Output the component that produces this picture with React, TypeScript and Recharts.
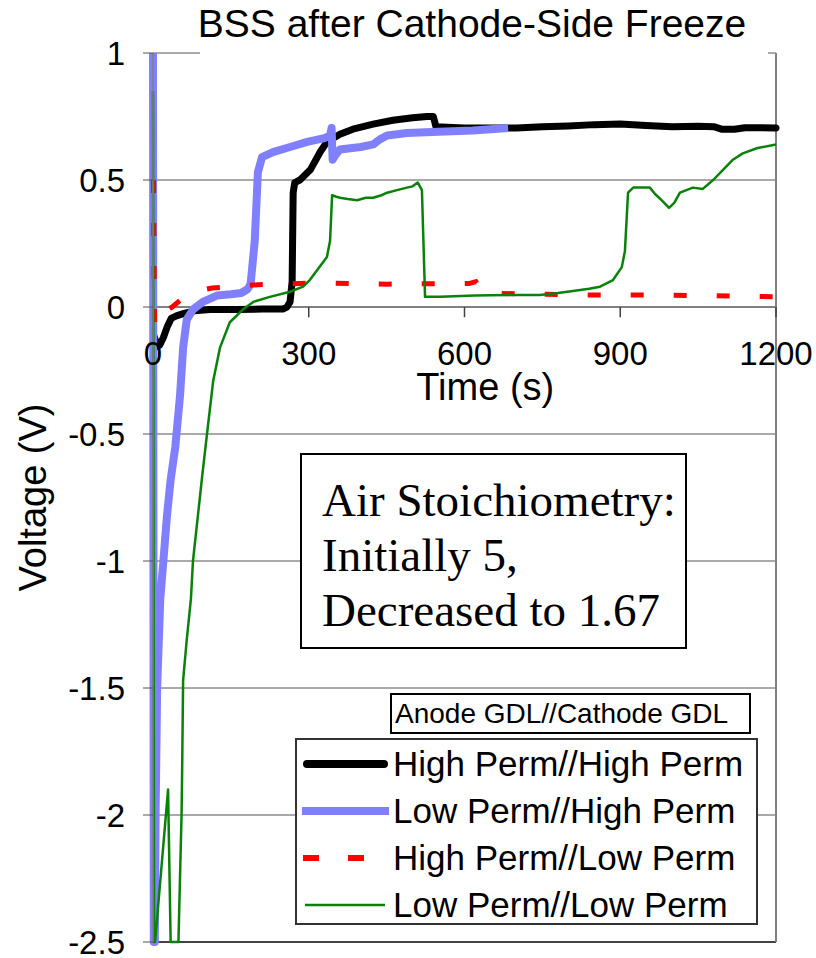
import {
  Legend,
  Line,
  LineChart,
  ReferenceDot,
  ReferenceLine,
  CartesianGrid,
  XAxis,
  YAxis,
} from "recharts";

// time (s), voltage (V)
const highHigh: [number, number][] = [
  [1, -0.11], [3, -0.12], [8, -0.155], [13, -0.15], [20, -0.12], [27, -0.08], [35, -0.045],
  [45, -0.035], [60, -0.025], [80, -0.015], [110, -0.01], [160, -0.01], [210, -0.008],
  [250, -0.008], [258, 0.0], [264, 0.02], [268, 0.1], [270, 0.45], [273, 0.49], [283, 0.5],
  [303, 0.54], [322, 0.61], [335, 0.65], [360, 0.68], [385, 0.7], [424, 0.72], [462, 0.735],
  [500, 0.745], [528, 0.75], [540, 0.75], [545, 0.71], [600, 0.705], [650, 0.705], [700, 0.705],
  [750, 0.71], [800, 0.713], [850, 0.718], [900, 0.72], [950, 0.715], [1000, 0.71],
  [1050, 0.712], [1080, 0.71], [1095, 0.7], [1120, 0.7], [1140, 0.706], [1200, 0.705],
];

const lowHigh: [number, number][] = [
  [0, 1.0], [1.5, -2.5], [3.5, -2.5], [5, -2.0], [8, -1.5], [14, -1.15], [20, -1.0],
  [27, -0.82], [34, -0.68], [43, -0.55], [52, -0.35], [58, -0.16], [65, -0.05], [77, -0.01],
  [96, 0.02], [123, 0.045], [150, 0.05], [170, 0.055], [182, 0.07], [188, 0.09], [196, 0.26],
  [202, 0.53], [210, 0.59], [231, 0.61], [264, 0.63], [297, 0.65], [330, 0.665], [341, 0.675],
  [344, 0.705], [346, 0.58], [352, 0.6], [360, 0.62], [400, 0.63], [424, 0.64], [437, 0.66],
  [451, 0.675], [489, 0.685], [550, 0.69], [616, 0.695], [684, 0.705],
];

const highLow: [number, number][] = [
  [1, 0.5], [3, -0.08], [12, -0.04], [25, -0.015], [37, 0.0], [60, 0.04], [90, 0.065],
  [114, 0.075], [142, 0.078], [193, 0.087], [240, 0.09], [300, 0.094], [350, 0.094],
  [400, 0.092], [450, 0.09], [500, 0.092], [560, 0.092], [610, 0.093], [622, 0.1], [628, 0.075],
  [640, 0.055], [700, 0.052], [760, 0.05], [820, 0.048], [880, 0.047], [940, 0.047],
  [1000, 0.046], [1060, 0.045], [1120, 0.043], [1200, 0.04],
];

const lowLow: [number, number][] = [
  [0, 0.85], [2, -2.5], [4, -2.5], [29, -1.9], [34, -2.5], [49, -2.5], [55, -2.0], [56, -1.85],
  [58, -1.47], [65, -1.31], [73, -1.15], [77, -1.0], [94, -0.68], [104, -0.5], [116, -0.29],
  [129, -0.16], [148, -0.06], [173, -0.01], [193, 0.02], [225, 0.04], [264, 0.06], [289, 0.08],
  [302, 0.106], [335, 0.197], [341, 0.26], [345, 0.44], [352, 0.435], [360, 0.43], [375, 0.425],
  [393, 0.42], [410, 0.43], [424, 0.43], [440, 0.44], [451, 0.45], [470, 0.46], [489, 0.47],
  [500, 0.475], [510, 0.49], [518, 0.46], [524, 0.04], [553, 0.04], [620, 0.045], [682, 0.047],
  [745, 0.047], [780, 0.055], [809, 0.063], [840, 0.072], [861, 0.08], [886, 0.106],
  [903, 0.157], [909, 0.22], [915, 0.45], [925, 0.47], [957, 0.47], [967, 0.445], [980, 0.42],
  [994, 0.39], [1004, 0.41], [1015, 0.45], [1040, 0.47], [1059, 0.465], [1079, 0.5],
  [1098, 0.54], [1117, 0.58], [1136, 0.605], [1163, 0.625], [1200, 0.64],
];

const timeTicks = [0, 300, 600, 900, 1200];
const voltTicks = [1, 0.5, 0, -0.5, -1, -1.5, -2, -2.5];

const toPoints = (rows: [number, number][]) => rows.map(([t, v]) => ({ t, v }));

const series = [
  { name: "High Perm//High Perm", rows: highHigh, color: "#000000", width: 7, dash: undefined, cap: "round", sample: [10, 87], sampleWidth: 8 },
  { name: "Low Perm//High Perm", rows: lowHigh, color: "#8080ff", width: 8, dash: undefined, cap: "butt", sample: [5, 92], sampleWidth: 8 },
  { name: "High Perm//Low Perm", rows: highLow, color: "#ff0000", width: 5, dash: "13 30", cap: "butt", sample: [6, 70], sampleWidth: 6, sampleDash: "16 29" },
  { name: "Low Perm//Low Perm", rows: lowLow, color: "#0a820a", width: 2.5, dash: undefined, cap: "butt", sample: [8, 88], sampleWidth: 2.5 },
];

const SANS = '"Liberation Sans", Arial, sans-serif';
const SERIF = '"Liberation Serif", "Times New Roman", serif';

function VoltLabel(props: any) {
  const vb = props.viewBox;
  const cx = vb.x + 33;
  const cy = vb.y + vb.height / 2;
  return (
    <text x={cx} y={cy} transform={`rotate(-90, ${cx}, ${cy})`} textAnchor="middle"
      dominantBaseline="central" fontSize={38} fill="#000">
      Voltage (V)
    </text>
  );
}

function GdlLegend({ payload }: any) {
  // keep the series order, not the alphabetical one
  const entries = series.filter((s) => (payload || []).some((p: any) => p.value === s.name));
  return (
    <div style={{ fontFamily: SANS, color: "#000" }}>
      <div style={{ marginLeft: 95, width: 361, height: 41, boxSizing: "border-box", border: "2px solid #000",
        background: "#fff", fontSize: 28, lineHeight: "37px", paddingLeft: 3, whiteSpace: "nowrap" }}>
        Anode GDL//Cathode GDL
      </div>
      <div style={{ marginTop: 4, width: 463, height: 187, boxSizing: "border-box", border: "2px solid #333",
        background: "#fff" }}>
        {entries.map((s) => (
          <div key={s.name} style={{ display: "flex", alignItems: "center", height: 47 }}>
            <svg width={96} height={20} style={{ flex: "none" }}>
              <line x1={s.sample[0]} x2={s.sample[1]} y1={10} y2={10} stroke={s.color}
                strokeWidth={s.sampleWidth} strokeDasharray={(s as any).sampleDash}
                strokeLinecap={s.cap as any} />
            </svg>
            <span style={{ fontSize: 35, whiteSpace: "nowrap", lineHeight: "40px" }}>{s.name}</span>
          </div>
        ))}
      </div>
    </div>
  );
}

export default function App() {
  return (
    <div style={{ position: "absolute", left: 0, top: 0, width: 816, height: 958, background: "#fff", fontFamily: SANS }}>
      <LineChart width={816} height={958} margin={{ top: 53, right: 40, bottom: 16, left: 0 }}>
        <CartesianGrid vertical={false} stroke="#555" strokeWidth={1} />
        <XAxis type="number" dataKey="t" domain={[0, 1200]} ticks={timeTicks} hide height={0} />
        <YAxis type="number" domain={[-2.5, 1]} ticks={voltTicks} interval={0} width={153}
          axisLine={{ stroke: "#808080", strokeWidth: 1.5 }} tickLine={{ stroke: "#555" }}
          tickSize={10} tickMargin={18} tick={{ fontSize: 33, fill: "#000" }}
          label={VoltLabel} />
        <ReferenceLine y={-2.5} stroke="#222" strokeWidth={1.5} />
        <ReferenceLine x={1200} stroke="#808080" strokeWidth={2} />
        <ReferenceLine y={0} stroke="#808080" strokeWidth={2} />
        {timeTicks.map((t) => (
          <ReferenceLine key={`tick-${t}`} segment={[{ x: t, y: 0 }, { x: t, y: -0.04 }]}
            stroke="#404040" strokeWidth={1.5} />
        ))}
        {timeTicks.map((t) => (
          <ReferenceDot key={`lab-${t}`} x={t} y={0} r={0} fill="none" stroke="none"
            label={{ value: String(t), position: "bottom", offset: 35, fontSize: 33, fill: "#000" }} />
        ))}
        <ReferenceDot x={640} y={0} r={0} fill="none" stroke="none"
          label={{ value: "Time (s)", position: "bottom", offset: 66, fontSize: 38, fill: "#000" }} />
        {series.map((s) => (
          <Line key={s.name} name={s.name} data={toPoints(s.rows)} dataKey="v" type="linear"
            stroke={s.color} strokeWidth={s.width} strokeDasharray={s.dash}
            strokeLinecap={s.cap as any} strokeLinejoin="round" dot={false} isAnimationActive={false} />
        ))}
        <Legend layout="vertical" align="center" verticalAlign="middle" content={GdlLegend}
          wrapperStyle={{ left: 295, top: 693, width: 463, height: 232 }} />
      </LineChart>

      <div style={{ position: "absolute", left: 200, top: 0, width: 568, height: 55, background: "#fff" }} />
      <div style={{ position: "absolute", left: 122, top: 4, width: 700, textAlign: "center", fontSize: 39,
        lineHeight: "39px", whiteSpace: "nowrap" }}>
        BSS after Cathode-Side Freeze
      </div>

      <div style={{ position: "absolute", left: 300, top: 453, width: 387, height: 196, boxSizing: "border-box",
        border: "2px solid #000", background: "#fff", fontFamily: SERIF, fontSize: 47, lineHeight: "55px",
        paddingLeft: 20, paddingTop: 18, whiteSpace: "nowrap" }}>
        Air Stoichiometry:<br />Initially 5,<br />Decreased to 1.67
      </div>
    </div>
  );
}
